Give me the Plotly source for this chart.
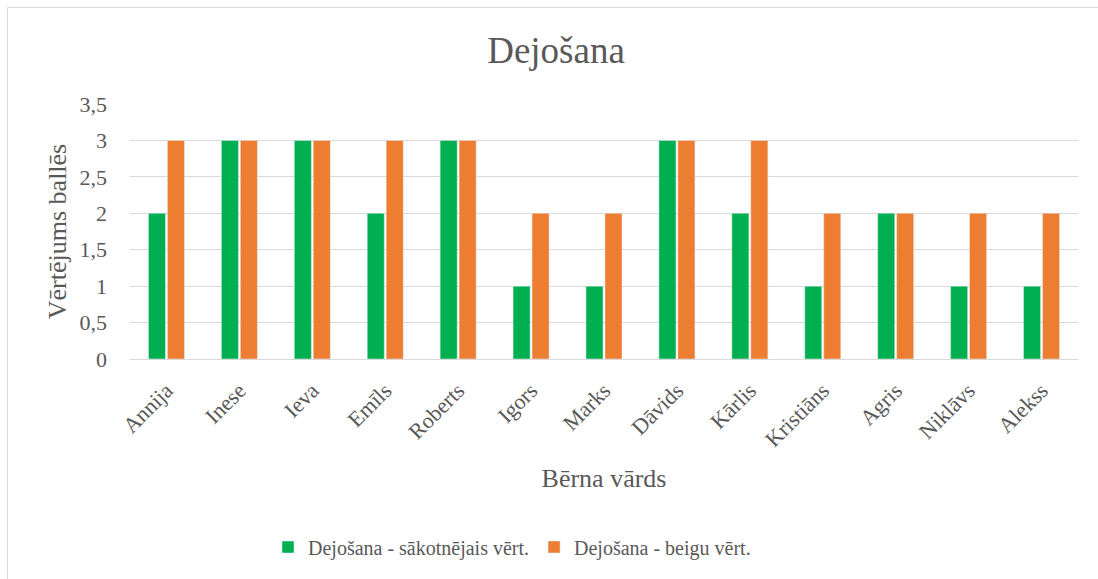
import plotly.graph_objects as go

names = ["Annija", "Inese", "Ieva", "Emīls", "Roberts", "Igors", "Marks", "Dāvids",
         "Kārlis", "Kristiāns", "Agris", "Niklāvs", "Alekss"]
initial = [2, 3, 3, 2, 3, 1, 1, 3, 2, 1, 2, 1, 1]
final = [3, 3, 3, 3, 3, 2, 2, 3, 3, 2, 2, 2, 2]
series_names = ["Dejošana - sākotnējais vērt.", "Dejošana - beigu vērt."]
y_ticks = [0, 0.5, 1, 1.5, 2, 2.5, 3, 3.5]

FONT = "Liberation Serif, Times New Roman, serif"
TXT = "#595959"

fig = go.Figure()
fig.add_trace(go.Bar(x=names, y=initial, name=series_names[0], marker_color="#00B050"))
fig.add_trace(go.Bar(x=names, y=final, name=series_names[1], marker_color="#ED7D31"))

W, H = 1098, 579
L, R, T, B = 130, 20, 104, 220
pw, ph = W - L - R, H - T - B

def px_x(p):
    return (p - L) / pw

def px_y(p):
    return (H - B - p) / ph

fig.update_layout(
    width=W, height=H,
    margin=dict(l=L, r=R, t=T, b=B),
    paper_bgcolor="white", plot_bgcolor="white",
    separators=", ",
    font=dict(family=FONT, color=TXT, size=20),
    title=dict(text="Dejošana", x=556 / W, xanchor="center", y=1 - 50 / H, yanchor="middle",
               font=dict(size=37, color=TXT, family=FONT)),
    barmode="group", bargap=0.48, bargroupgap=0.1,
    showlegend=True,
    legend=dict(orientation="h", x=px_x(512), xanchor="center", y=px_y(547), yanchor="middle",
                font=dict(size=20, color=TXT, family=FONT), traceorder="normal"),
    xaxis=dict(
        title=dict(text="Bērna vārds", font=dict(size=26, color=TXT, family=FONT), standoff=17),
        tickangle=-45, tickfont=dict(size=22, color=TXT, family=FONT),
        showline=True, linecolor="#D9D9D9", linewidth=1, ticks="",
        ticklabelstandoff=9,
        showgrid=False,
    ),
    yaxis=dict(
        title=dict(text="Vērtējums ballēs", font=dict(size=26, color=TXT, family=FONT), standoff=5),
        range=[0, 3.5], tickvals=y_ticks, tickformat=".1~f",
        tickfont=dict(size=22, color=TXT, family=FONT),
        showgrid=True, gridcolor="#D9D9D9", gridwidth=1, zeroline=False,
        ticks="", ticklen=0, ticklabelstandoff=22,
    ),
    shapes=[
        dict(type="line", xref="paper", yref="paper", x0=px_x(7.5), x1=px_x(7.5),
             y0=px_y(7.5), y1=px_y(579), line=dict(color="#D9D9D9", width=1)),
        dict(type="line", xref="paper", yref="paper", x0=px_x(7.5), x1=px_x(1098),
             y0=px_y(7.5), y1=px_y(7.5), line=dict(color="#D9D9D9", width=1)),
    ],
)

fig.write_html("out.html", config={"displayModeBar": False},
               post_script="document.body.style.margin='0';document.body.style.overflow='hidden';")
